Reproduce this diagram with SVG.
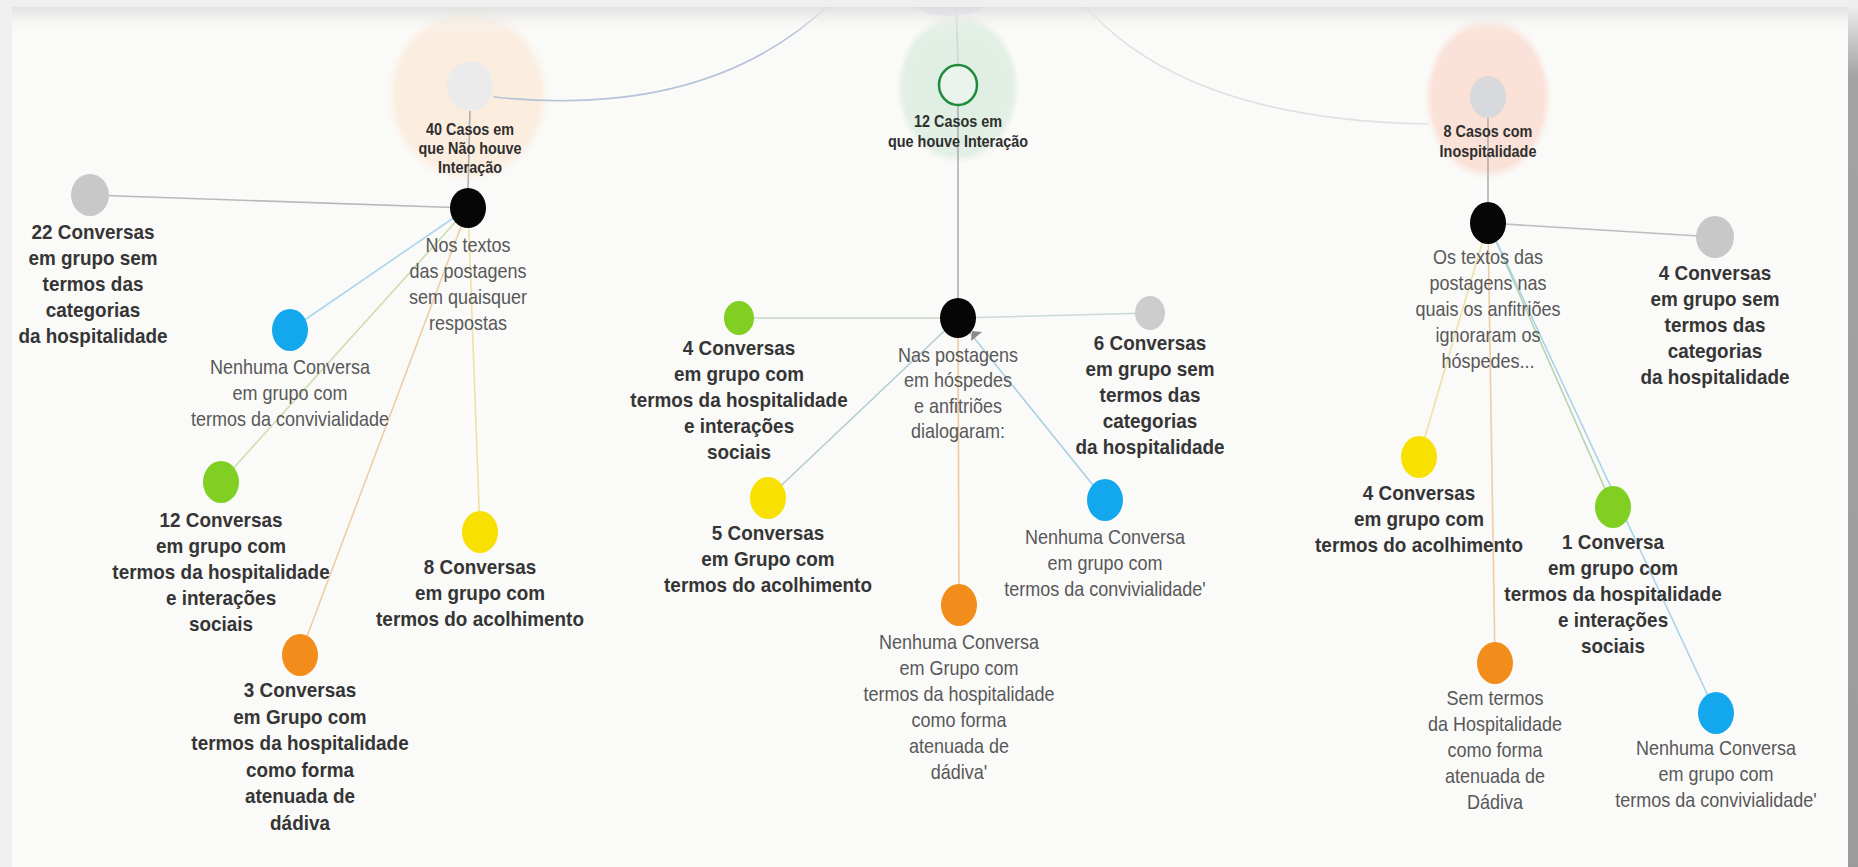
<svg xmlns="http://www.w3.org/2000/svg" width="1858" height="867" viewBox="0 0 1858 867">
<defs>
<style>
.b{font-family:"Liberation Sans",Arial,sans-serif;font-weight:bold;font-size:21px;fill:#353535;text-anchor:middle}
.r{font-family:"Liberation Sans",Arial,sans-serif;font-size:20px;fill:#585858;text-anchor:middle}
.h{font-family:"Liberation Sans",Arial,sans-serif;font-weight:bold;font-size:16px;fill:#2f2f2f;text-anchor:middle}
.ln{fill:none;stroke-width:1.6;stroke-linecap:round}
.blk{fill:#060606}
.gry{fill:#c8c8c8}
.grn{fill:#80cf22}
.yel{fill:#f8e000}
.org{fill:#f28d1c}
.blu{fill:#13a8ee}
</style>
<radialGradient id="gOr" cx="0.5" cy="0.5" r="0.5">
<stop offset="0" stop-color="#fbeddc"/><stop offset="0.88" stop-color="#fbeee0"/><stop offset="1" stop-color="#fcf2e8" stop-opacity="0"/>
</radialGradient>
<radialGradient id="gGr" cx="0.5" cy="0.5" r="0.5">
<stop offset="0" stop-color="#dfeee3"/><stop offset="0.88" stop-color="#e1efe4"/><stop offset="1" stop-color="#e8f2ea" stop-opacity="0"/>
</radialGradient>
<radialGradient id="gRd" cx="0.5" cy="0.5" r="0.5">
<stop offset="0" stop-color="#fae0d5"/><stop offset="0.88" stop-color="#fbe2d8"/><stop offset="1" stop-color="#fbeae4" stop-opacity="0"/>
</radialGradient>
<linearGradient id="gTop" x1="0" y1="0" x2="0" y2="1">
<stop offset="0" stop-color="#dedede" stop-opacity="0.9"/><stop offset="1" stop-color="#fafaf8" stop-opacity="0"/>
</linearGradient>
<linearGradient id="gRight" x1="0" y1="0" x2="0" y2="1">
<stop offset="0" stop-color="#ececec"/><stop offset="0.08" stop-color="#a3a3a3"/><stop offset="1" stop-color="#9b9b9b"/>
</linearGradient>
</defs>

<g id="frame">
<rect x="0" y="0" width="1858" height="867" fill="#efefef"/>
<rect x="12" y="7" width="1836" height="860" fill="#fafaf8"/>
<rect x="1848" y="7" width="10" height="860" fill="url(#gRight)"/>
</g>

<g id="halos">
<ellipse cx="950" cy="-10" rx="46" ry="26" fill="#dcdcee"/>
<ellipse cx="468" cy="95" rx="82" ry="88" fill="url(#gOr)"/>
<ellipse cx="958" cy="88" rx="62" ry="76" fill="url(#gGr)"/>
<ellipse cx="1488" cy="98" rx="64" ry="82" fill="url(#gRd)"/>
</g>

<g id="connectors">
<path class="ln" d="M494,97 Q712,120 834,0" stroke="#b5c3d8"/>
<path class="ln" d="M1080,0 Q1180,120 1428,124" stroke="#e0e0e0" stroke-width="2"/>
<line class="ln" x1="956" y1="0" x2="958" y2="66" stroke="#d4d4dc"/>
<line class="ln" x1="470" y1="110" x2="468" y2="190" stroke="#b0b0b0"/>
<line class="ln" x1="468" y1="208" x2="90" y2="195" stroke="#b9b9b9" stroke-width="2"/>
<line class="ln" x1="468" y1="208" x2="290" y2="330" stroke="#a9d6ec"/>
<line class="ln" x1="468" y1="208" x2="221" y2="482" stroke="#cbdfae"/>
<line class="ln" x1="468" y1="208" x2="300" y2="655" stroke="#f0cda6"/>
<line class="ln" x1="468" y1="208" x2="480" y2="532" stroke="#ece3a2"/>
<line class="ln" x1="958" y1="104" x2="958" y2="300" stroke="#b0b0b0"/>
<line class="ln" x1="958" y1="318" x2="739" y2="318" stroke="#c9d6cc" stroke-width="2.5"/>
<line class="ln" x1="958" y1="318" x2="1150" y2="313" stroke="#cdd8d8" stroke-width="2.5"/>
<line class="ln" x1="958" y1="318" x2="768" y2="498" stroke="#b4ccd4"/>
<line class="ln" x1="958" y1="318" x2="1105" y2="500" stroke="#a9cfe1"/>
<line class="ln" x1="958" y1="318" x2="959" y2="605" stroke="#efc9a0"/>
<line class="ln" x1="1488" y1="118" x2="1488" y2="204" stroke="#b0b0b0"/>
<line class="ln" x1="1488" y1="223" x2="1715" y2="237" stroke="#bdbdbd" stroke-width="2"/>
<line class="ln" x1="1488" y1="223" x2="1419" y2="457" stroke="#ece3a2"/>
<line class="ln" x1="1488" y1="223" x2="1495" y2="663" stroke="#f0cda6"/>
<line class="ln" x1="1488" y1="223" x2="1613" y2="507" stroke="#b9d2ac"/>
<line class="ln" x1="1488" y1="223" x2="1716" y2="713" stroke="#a9d3ea"/>
<polygon points="971,341 982,332 972,331" fill="#8a8a8a"/>
</g>

<g id="hub-nao-interacao">
<ellipse cx="470" cy="86" rx="23" ry="25" fill="#ebebeb"/>
<text class="h" transform="matrix(0.9 0 0 1 470 0)"><tspan x="0" y="135">40 Casos em</tspan><tspan x="0" y="154">que Não houve</tspan><tspan x="0" y="173">Interação</tspan></text>
</g>
<g id="black-nos-textos">
<ellipse class="blk" cx="468" cy="208" rx="18" ry="20"/>
<text class="r" transform="matrix(0.9 0 0 1 468 0)"><tspan x="0" y="252">Nos textos</tspan><tspan x="0" y="278">das postagens</tspan><tspan x="0" y="304">sem quaisquer</tspan><tspan x="0" y="330">respostas</tspan></text>
</g>
<g id="l-22-conversas">
<ellipse class="gry" cx="90" cy="195" rx="19" ry="21"/>
<text class="b" transform="matrix(0.9 0 0 1 93 0)"><tspan x="0" y="239">22 Conversas</tspan><tspan x="0" y="265">em grupo sem</tspan><tspan x="0" y="291">termos das</tspan><tspan x="0" y="317">categorias</tspan><tspan x="0" y="343">da hospitalidade</tspan></text>
</g>
<g id="l-convivialidade">
<ellipse class="blu" cx="290" cy="330" rx="18" ry="21"/>
<text class="r" transform="matrix(0.9 0 0 1 290 0)"><tspan x="0" y="374">Nenhuma Conversa</tspan><tspan x="0" y="400">em grupo com</tspan><tspan x="0" y="426">termos da convivialidade</tspan></text>
</g>
<g id="l-12-conversas">
<ellipse class="grn" cx="221" cy="482" rx="18" ry="21"/>
<text class="b" transform="matrix(0.9 0 0 1 221 0)"><tspan x="0" y="527">12 Conversas</tspan><tspan x="0" y="553">em grupo com</tspan><tspan x="0" y="579">termos da hospitalidade</tspan><tspan x="0" y="605">e interações</tspan><tspan x="0" y="631">sociais</tspan></text>
</g>
<g id="l-3-conversas">
<ellipse class="org" cx="300" cy="655" rx="18" ry="21"/>
<text class="b" transform="matrix(0.9 0 0 1 300 0)"><tspan x="0" y="697">3 Conversas</tspan><tspan x="0" y="724">em Grupo com</tspan><tspan x="0" y="750">termos da hospitalidade</tspan><tspan x="0" y="777">como forma</tspan><tspan x="0" y="803">atenuada de</tspan><tspan x="0" y="830">dádiva</tspan></text>
</g>
<g id="l-8-conversas">
<ellipse class="yel" cx="480" cy="532" rx="18" ry="21"/>
<text class="b" transform="matrix(0.9 0 0 1 480 0)"><tspan x="0" y="574">8 Conversas</tspan><tspan x="0" y="600">em grupo com</tspan><tspan x="0" y="626">termos do acolhimento</tspan></text>
</g>

<g id="hub-houve-interacao">
<ellipse cx="958" cy="85" rx="19" ry="20" fill="#eaf4ec" stroke="#1f8a3c" stroke-width="2.5"/>
<text class="h" transform="matrix(0.9 0 0 1 958 0)"><tspan x="0" y="127">12 Casos em</tspan><tspan x="0" y="147">que houve Interação</tspan></text>
</g>
<g id="black-nas-postagens">
<ellipse class="blk" cx="958" cy="318" rx="18" ry="20"/>
<text class="r" transform="matrix(0.9 0 0 1 958 0)"><tspan x="0" y="362">Nas postagens</tspan><tspan x="0" y="387">em hóspedes</tspan><tspan x="0" y="413">e anfitriões</tspan><tspan x="0" y="438">dialogaram:</tspan></text>
</g>
<g id="c-4-conversas">
<ellipse class="grn" cx="739" cy="318" rx="15" ry="17"/>
<text class="b" transform="matrix(0.9 0 0 1 739 0)"><tspan x="0" y="355">4 Conversas</tspan><tspan x="0" y="381">em grupo com</tspan><tspan x="0" y="407">termos da hospitalidade</tspan><tspan x="0" y="433">e interações</tspan><tspan x="0" y="459">sociais</tspan></text>
</g>
<g id="c-6-conversas">
<ellipse cx="1150" cy="313" rx="15" ry="17" fill="#cdcdcd"/>
<text class="b" transform="matrix(0.9 0 0 1 1150 0)"><tspan x="0" y="350">6 Conversas</tspan><tspan x="0" y="376">em grupo sem</tspan><tspan x="0" y="402">termos das</tspan><tspan x="0" y="428">categorias</tspan><tspan x="0" y="454">da hospitalidade</tspan></text>
</g>
<g id="c-5-conversas">
<ellipse class="yel" cx="768" cy="498" rx="18" ry="21"/>
<text class="b" transform="matrix(0.9 0 0 1 768 0)"><tspan x="0" y="540">5 Conversas</tspan><tspan x="0" y="566">em Grupo com</tspan><tspan x="0" y="592">termos do acolhimento</tspan></text>
</g>
<g id="c-convivialidade">
<ellipse class="blu" cx="1105" cy="500" rx="18" ry="21"/>
<text class="r" transform="matrix(0.9 0 0 1 1105 0)"><tspan x="0" y="544">Nenhuma Conversa</tspan><tspan x="0" y="570">em grupo com</tspan><tspan x="0" y="596">termos da convivialidade'</tspan></text>
</g>
<g id="c-dadiva">
<ellipse class="org" cx="959" cy="605" rx="18" ry="21"/>
<text class="r" transform="matrix(0.9 0 0 1 959 0)"><tspan x="0" y="649">Nenhuma Conversa</tspan><tspan x="0" y="675">em Grupo com</tspan><tspan x="0" y="701">termos da hospitalidade</tspan><tspan x="0" y="727">como forma</tspan><tspan x="0" y="753">atenuada de</tspan><tspan x="0" y="779">dádiva'</tspan></text>
</g>

<g id="hub-inospitalidade">
<ellipse cx="1488" cy="97" rx="18" ry="21" fill="#d8d9dc"/>
<text class="h" transform="matrix(0.9 0 0 1 1488 0)"><tspan x="0" y="137">8 Casos com</tspan><tspan x="0" y="157">Inospitalidade</tspan></text>
</g>
<g id="black-os-textos">
<ellipse class="blk" cx="1488" cy="223" rx="18" ry="21"/>
<text class="r" transform="matrix(0.9 0 0 1 1488 0)"><tspan x="0" y="264">Os textos das</tspan><tspan x="0" y="290">postagens nas</tspan><tspan x="0" y="316">quais os anfitriões</tspan><tspan x="0" y="342">ignoraram os</tspan><tspan x="0" y="368">hóspedes...</tspan></text>
</g>
<g id="r-4-conversas-sem">
<ellipse class="gry" cx="1715" cy="237" rx="19" ry="21"/>
<text class="b" transform="matrix(0.9 0 0 1 1715 0)"><tspan x="0" y="280">4 Conversas</tspan><tspan x="0" y="306">em grupo sem</tspan><tspan x="0" y="332">termos das</tspan><tspan x="0" y="358">categorias</tspan><tspan x="0" y="384">da hospitalidade</tspan></text>
</g>
<g id="r-4-conversas-acolhimento">
<ellipse class="yel" cx="1419" cy="457" rx="18" ry="21"/>
<text class="b" transform="matrix(0.9 0 0 1 1419 0)"><tspan x="0" y="500">4 Conversas</tspan><tspan x="0" y="526">em grupo com</tspan><tspan x="0" y="552">termos do acolhimento</tspan></text>
</g>
<g id="r-1-conversa">
<ellipse class="grn" cx="1613" cy="507" rx="18" ry="21"/>
<text class="b" transform="matrix(0.9 0 0 1 1613 0)"><tspan x="0" y="549">1 Conversa</tspan><tspan x="0" y="575">em grupo com</tspan><tspan x="0" y="601">termos da hospitalidade</tspan><tspan x="0" y="627">e interações</tspan><tspan x="0" y="653">sociais</tspan></text>
</g>
<g id="r-dadiva">
<ellipse class="org" cx="1495" cy="663" rx="18" ry="21"/>
<text class="r" transform="matrix(0.9 0 0 1 1495 0)"><tspan x="0" y="705">Sem termos</tspan><tspan x="0" y="731">da Hospitalidade</tspan><tspan x="0" y="757">como forma</tspan><tspan x="0" y="783">atenuada de</tspan><tspan x="0" y="809">Dádiva</tspan></text>
</g>
<g id="r-convivialidade">
<ellipse class="blu" cx="1716" cy="713" rx="18" ry="21"/>
<text class="r" transform="matrix(0.9 0 0 1 1716 0)"><tspan x="0" y="755">Nenhuma Conversa</tspan><tspan x="0" y="781">em grupo com</tspan><tspan x="0" y="807">termos da convivialidade'</tspan></text>
</g>

<g id="frame-top">
<rect x="0" y="0" width="1858" height="7" fill="#efefef"/>
<rect x="12" y="7" width="1836" height="28" fill="url(#gTop)"/>
</g>
</svg>
